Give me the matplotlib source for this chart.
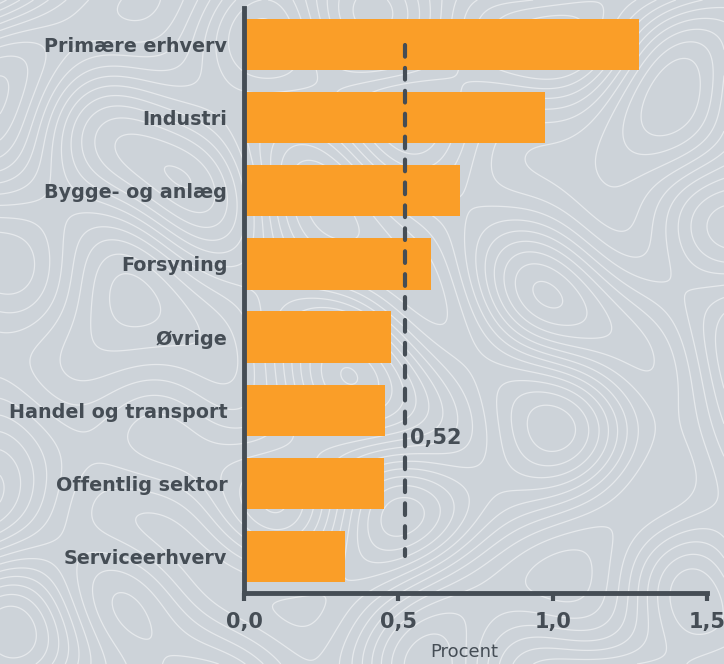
import numpy as np
import matplotlib
matplotlib.use("Agg")
import matplotlib.pyplot as plt

# Data
categories = ["Primære erhverv", "Industri", "Bygge- og anlæg", "Forsyning",
              "Øvrige", "Handel og transport", "Offentlig sektor", "Serviceerhverv"]
values = [1.28, 0.975, 0.70, 0.605, 0.476, 0.458, 0.453, 0.328]
average = 0.52
average_label = "0,52"
xticks = [0.0, 0.5, 1.0, 1.5]
xtick_labels = ["0,0", "0,5", "1,0", "1,5"]

bg = "#CDD3D9"
orange = "#FA9E28"
dark = "#454D55"

fig = plt.figure(figsize=(7.24, 6.64), dpi=100, facecolor=bg)

# decorative topographic background
bgax = fig.add_axes([0, 0, 1, 1], zorder=0)
gx, gy = np.meshgrid(np.linspace(0, 10, 500), np.linspace(0, 9, 450))
field = (np.sin(gx * 1.4 + np.cos(gy * 0.9) * 2.0) + 0.9 * np.cos(gy * 1.6 - gx * 0.6)
         + 0.6 * np.sin((gx + gy) * 1.9) + 0.35 * np.cos(gx * 2.7 - gy * 0.8)
         + 0.25 * np.sin(gy * 3.1 + gx * 1.2))
bgax.contour(gx, gy, field, levels=16, colors="white", linewidths=0.9,
             linestyles="solid", alpha=0.5)
bgax.set_axis_off()

ax = fig.add_axes([244 / 724, 1 - 593 / 664, (707 - 244) / 724, (593 - 8) / 664], zorder=1)
ax.patch.set_alpha(0)

y = np.arange(len(categories))
ax.barh(y, values, height=0.7, color=orange, zorder=2)

ax.plot([average, average], [0, 7], color=dark, lw=3, ls=(0, (2.8, 2.7)),
        dash_capstyle="round", zorder=3)
ax.text(average + 0.018, 5.38, average_label, color=dark, fontsize=15,
        fontweight="bold", va="center", ha="left", zorder=4)

ax.set_ylim(7.5, -0.5)
ax.set_xlim(0, 1.5)
ax.set_yticks(y)
ax.set_yticklabels(categories, fontsize=13.8, fontweight="bold", color=dark)
ax.tick_params(axis="y", length=0, pad=12)
ax.set_xticks(xticks)
ax.set_xticklabels(xtick_labels, fontsize=15, fontweight="bold", color=dark)
ax.tick_params(axis="x", length=6, width=3, color=dark, pad=8)

for s in ["top", "right"]:
    ax.spines[s].set_visible(False)
for s in ["left", "bottom"]:
    ax.spines[s].set_color(dark)
    ax.spines[s].set_linewidth(3.5)

ax.set_xlabel("Procent", fontsize=13, color=dark, labelpad=7)
ax.xaxis.set_label_coords(0.475, -0.085)

fig.savefig("out.png", dpi=100, facecolor=bg)
